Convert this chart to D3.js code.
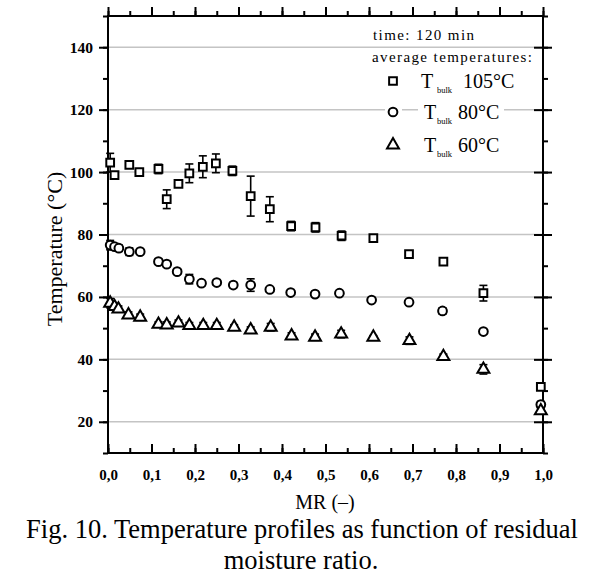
<!DOCTYPE html>
<html><head><meta charset="utf-8">
<script src="https://cdn.jsdelivr.net/npm/d3@7"></script>
<style>body{margin:0;background:#fff;} svg{display:block;} .sub{opacity:0.999;}</style>
</head><body>
<svg id="c" width="600" height="588"></svg>
<script>
// ---- data ----
const mr105 = [0.005, 0.015, 0.049, 0.072, 0.116, 0.135, 0.162, 0.187, 0.218, 0.248, 0.286, 0.328, 0.372, 0.421, 0.477, 0.537, 0.61, 0.692, 0.771, 0.863, 0.995];
const t105  = [103, 99, 102.3, 100, 101, 91.3, 96.2, 99.6, 101.7, 102.8, 100.4, 92.3, 88.1, 82.7, 82.3, 79.6, 78.8, 73.7, 71.3, 61.2, 31.2];
const e105  = [3, 1, 0.8, 0.5, 1.5, 3, 1, 3, 3.5, 3, 1.5, 6.4, 4, 1.5, 1.5, 1.5, 0.5, 1, 0.5, 2.5, 1];

const mr80 = [0.005, 0.015, 0.025, 0.049, 0.074, 0.116, 0.135, 0.159, 0.187, 0.215, 0.25, 0.288, 0.328, 0.372, 0.42, 0.476, 0.532, 0.606, 0.692, 0.769, 0.863, 0.995];
const t80  = [76.6, 76.1, 75.6, 74.5, 74.5, 71.3, 70.5, 68.1, 65.7, 64.4, 64.6, 63.8, 63.8, 62.4, 61.4, 60.9, 61.2, 59, 58.3, 55.5, 48.9, 25.5];
const e80  = [1.5, 1, 1, 1.2, 0.5, 0.8, 0.8, 0.8, 1.5, 0.8, 0.8, 0.8, 2, 0.5, 0.5, 0.5, 0.5, 0.5, 0.5, 1, 0.5, 1];

const mr60 = [0.005, 0.015, 0.024, 0.047, 0.074, 0.116, 0.135, 0.162, 0.187, 0.219, 0.25, 0.29, 0.328, 0.374, 0.422, 0.476, 0.536, 0.61, 0.693, 0.771, 0.863, 0.995];
const t60  = [58, 56.9, 56.1, 54.2, 53.5, 51.2, 51, 51.6, 50.8, 50.8, 50.8, 50.3, 49.4, 50.3, 47.5, 47.1, 48.1, 47.1, 46, 40.9, 36.8, 23.5];
const e60  = [1.5, 1, 1, 1, 1, 0.8, 1, 1, 1, 1, 1, 0.8, 1, 1.2, 1, 1, 1.2, 0.5, 1.2, 0.8, 1.5, 1];

const xTicks = [0, 0.1, 0.2, 0.3, 0.4, 0.5, 0.6, 0.7, 0.8, 0.9, 1.0];
const xTickLabels = ["0,0","0,1","0,2","0,3","0,4","0,5","0,6","0,7","0,8","0,9","1,0"];
const yTicks = [20, 40, 60, 80, 100, 120, 140];
const seriesNames = ["105°C", "80°C", "60°C"];
const seriesSymbols = ["square", "circle", "triangle"];

// ---- layout ----
const svg = d3.select("#c");
const L = 108, R = 543, T = 16, B = 453;
const x = d3.scaleLinear().domain([0, 1]).range([L, R]);
const y = d3.scaleLinear().domain([10, 150]).range([B, T]);
const serif = "'Liberation Serif','Times New Roman',serif";

// gridlines
svg.append("g").selectAll("line").data(yTicks).join("line")
  .attr("x1", L).attr("x2", R).attr("y1", d => y(d)).attr("y2", d => y(d))
  .attr("stroke", "#c4c4c4").attr("stroke-width", 1.5);

// axes
const minorX = d3.range(0, 1.0001, 0.05);
const minorY = d3.range(10, 150.001, 10);
function styleAxis(g){ g.select(".domain").remove(); g.selectAll("line").attr("stroke","#000").attr("stroke-width",2); }

// bottom: inward ticks
svg.append("g").attr("transform",`translate(0,${B})`)
  .call(d3.axisBottom(x).tickValues(minorX).tickSize(-5).tickFormat(""))
  .call(styleAxis);
svg.append("g").attr("transform",`translate(0,${B})`)
  .call(d3.axisBottom(x).tickValues(xTicks).tickSize(-9).tickPadding(16).tickFormat((d,i)=>xTickLabels[i]))
  .call(styleAxis)
  .call(g => g.selectAll("text").attr("font-family", serif).attr("font-size", 15).attr("fill","#000").attr("font-weight","bold").attr("dy","0.71em"));
// top: outward ticks
svg.append("g").attr("transform",`translate(0,${T})`)
  .call(d3.axisTop(x).tickValues(minorX).tickSize(5).tickFormat("")).call(styleAxis);
svg.append("g").attr("transform",`translate(0,${T})`)
  .call(d3.axisTop(x).tickValues(xTicks).tickSize(9).tickFormat("")).call(styleAxis);
// left: outward
svg.append("g").attr("transform",`translate(${L},0)`)
  .call(d3.axisLeft(y).tickValues(minorY).tickSize(5).tickFormat("")).call(styleAxis);
svg.append("g").attr("transform",`translate(${L},0)`)
  .call(d3.axisLeft(y).tickValues(yTicks).tickSize(9).tickPadding(6))
  .call(styleAxis)
  .call(g => g.selectAll("text").attr("font-family", serif).attr("font-size", 15.5).attr("fill","#000").attr("font-weight","bold"));
// right: crossing ticks
svg.append("g").attr("transform",`translate(${R},0)`)
  .call(d3.axisRight(y).tickValues(minorY).tickSize(5).tickFormat("")).call(styleAxis);
svg.append("g").attr("transform",`translate(${R},0)`)
  .call(d3.axisRight(y).tickValues(yTicks).tickSize(9).tickFormat("")).call(styleAxis)
  .call(g => g.selectAll("line").attr("x1", -9));
// frame
svg.append("rect").attr("x", L).attr("y", T).attr("width", R-L).attr("height", B-T)
  .attr("fill","none").attr("stroke","#000").attr("stroke-width",2);

// ---- series ----
const sym = {
  square: d3.symbol().type(d3.symbolSquare).size(60),
  circle: d3.symbol().type(d3.symbolCircle).size(60),
  triangle: d3.symbol().type(d3.symbolTriangle).size(62)
};
const series = [
  {mr: mr105, t: t105, e: e105, s: "square"},
  {mr: mr80,  t: t80,  e: e80,  s: "circle"},
  {mr: mr60,  t: t60,  e: e60,  s: "triangle"}
];
series.forEach(sr => {
  const pts = sr.mr.map((m,i)=>({m, t: sr.t[i], e: sr.e[i]}));
  const g = svg.append("g");
  const eb = g.selectAll("g.eb").data(pts).join("g");
  eb.append("line").attr("x1", d=>x(d.m)).attr("x2", d=>x(d.m))
    .attr("y1", d=>y(d.t+d.e)).attr("y2", d=>y(d.t-d.e)).attr("stroke","#000").attr("stroke-width",1.6);
  [1,-1].forEach(sg => eb.append("line")
    .attr("x1", d=>x(d.m)-4).attr("x2", d=>x(d.m)+4)
    .attr("y1", d=>y(d.t+sg*d.e)).attr("y2", d=>y(d.t+sg*d.e))
    .attr("stroke","#000").attr("stroke-width",1.6));
  g.selectAll("path.m").data(pts).join("path")
    .attr("transform", d=>`translate(${x(d.m)},${y(d.t)})`)
    .attr("d", sym[sr.s]()).attr("fill","#fff").attr("stroke","#000").attr("stroke-width",2);
});

// ---- legend ----
const lg = svg.append("g").attr("font-family", serif).attr("fill","#000");
lg.append("text").attr("x", 373).attr("y", 40).attr("font-size", 15).attr("letter-spacing", "1.4").attr("fill","#000").text("time: 120 min");
lg.append("rect").attr("x", 370).attr("y", 49).attr("width", 172).attr("height", 17).attr("fill","#fff");
lg.append("text").attr("x", 372).attr("y", 62).attr("font-size", 15).attr("letter-spacing", "1.4").attr("fill","#000").text("average temperatures:");
const rows = [81, 112, 145];
const valX = [463, 458, 458];
seriesNames.forEach((nm, i) => {
  lg.append("rect").attr("x", 385).attr("y", rows[i]-9).attr("width", 17).attr("height", 18).attr("fill","#fff");
  lg.append("rect").attr("x", 418).attr("y", rows[i]-11).attr("width", i===0?100:86).attr("height", 24).attr("fill","#fff");
  lg.append("path").attr("transform", `translate(393,${rows[i]})`)
    .attr("d", sym[seriesSymbols[i]]()).attr("fill","#fff").attr("stroke","#000").attr("stroke-width",2);
  lg.append("text").attr("x", i===0?421:424).attr("y", rows[i]+7).attr("font-size", 20).attr("fill","#000").text("T");
  lg.append("text").attr("class","sub").attr("x", 437).attr("y", rows[i]+12).attr("font-size", 8.5).attr("fill","#000").text("bulk");
  lg.append("text").attr("x", valX[i]).attr("y", rows[i]+7).attr("font-size", 20).attr("fill","#000").text(nm);
});

// ---- axis titles & caption ----
svg.append("text").attr("transform", "translate(62,249) rotate(-90)").attr("text-anchor","middle")
  .attr("font-family", serif).attr("font-size", 22).attr("fill","#000").text("Temperature (°C)");
svg.append("text").attr("x", 325).attr("y", 509).attr("text-anchor","middle")
  .attr("font-family", serif).attr("font-size", 20).attr("fill","#000").text("MR (–)");
svg.append("text").attr("x", 302).attr("y", 538).attr("text-anchor","middle")
  .attr("font-family", serif).attr("font-size", 26.5).attr("fill","#000").text("Fig. 10. Temperature profiles as function of residual");
svg.append("text").attr("x", 301).attr("y", 569).attr("text-anchor","middle")
  .attr("font-family", serif).attr("font-size", 26.5).attr("fill","#000").text("moisture ratio.");
</script>
</body></html>
